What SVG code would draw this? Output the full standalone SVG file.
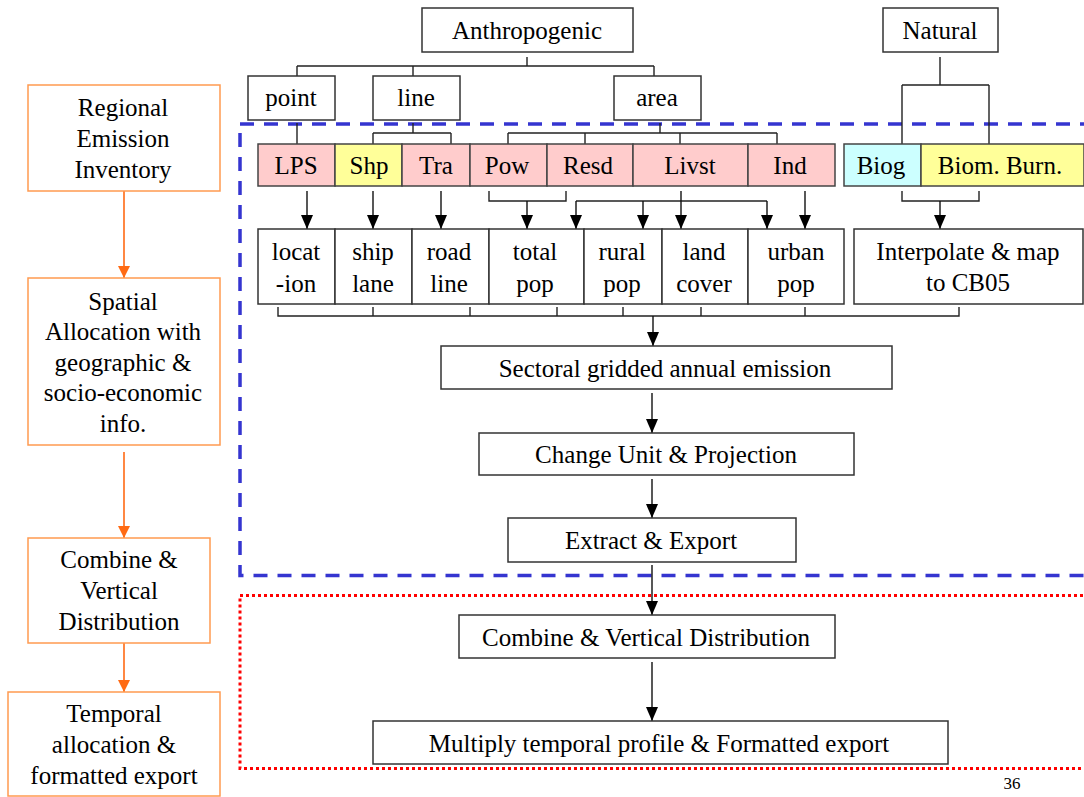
<svg xmlns="http://www.w3.org/2000/svg" width="1084" height="797" viewBox="0 0 1084 797">
<style>
.t{font-family:'Liberation Serif','Times New Roman','DejaVu Serif',serif;font-size:25px;text-anchor:middle;fill:#000}
.b{fill:#fff;stroke:#333;stroke-width:1.5}
.pk{fill:#ffcccc;stroke:#444;stroke-width:1.5}
.yl{fill:#ffff99;stroke:#444;stroke-width:1.5}
.cy{fill:#ccffff;stroke:#444;stroke-width:1.5}
.ob{fill:#fff;stroke:#ff9a50;stroke-width:1.5}
.c{fill:none;stroke:#222;stroke-width:1.4}
.ca{fill:none;stroke:#111;stroke-width:1.4;marker-end:url(#ah)}
.oc{fill:none;stroke:#ff6a13;stroke-width:1.6;marker-end:url(#oh)}
</style>
<defs>
<marker id="ah" viewBox="0 0 14 12" refX="14" refY="6" markerWidth="14" markerHeight="12" markerUnits="userSpaceOnUse" orient="auto"><path d="M0,0 L14,6 L0,12 z" fill="#000"/></marker>
<marker id="oh" viewBox="0 0 12 12" refX="12" refY="6" markerWidth="12" markerHeight="12" markerUnits="userSpaceOnUse" orient="auto"><path d="M0,0 L12,6 L0,12 z" fill="#ff6a13"/></marker>
</defs>
<rect width="1084" height="797" fill="#fff"/>

<g id="regions">
<rect x="240" y="124" width="880" height="451.5" fill="none" stroke="#3535d0" stroke-width="3.5" stroke-dasharray="14 10"/>
<rect x="240" y="595.5" width="880" height="173" fill="none" stroke="#ff0000" stroke-width="3" stroke-dasharray="3 3"/>
</g>

<g id="connectors">
<path class="c" d="M527,57 V66 M297,66 H654 M297,66 V76 M413,66 V76 M654,66 V76"/>
<path class="c" d="M297,123 V144"/>
<path class="c" d="M413,123 V133 M373,133 H451 M373,133 V144 M451,133 V144"/>
<path class="c" d="M660,123 V133 M508,133 H777 M508,133 V144 M585,133 V144 M680,133 V144 M777,133 V144"/>
<path class="c" d="M940,57 V85 M902,85 H989 M902,85 V144 M989,85 V144"/>
<path class="ca" d="M307,191 V229"/>
<path class="ca" d="M373,191 V229"/>
<path class="ca" d="M441,191 V229"/>
<path class="c" d="M489,191 V201 H566 V191"/>
<path class="ca" d="M527,201 V229"/>
<path class="c" d="M576,201 H767"/>
<path class="ca" d="M576,201 V229"/>
<path class="ca" d="M643,201 V229"/>
<path class="ca" d="M681,191 V229"/>
<path class="ca" d="M767,201 V229"/>
<path class="ca" d="M805,191 V229"/>
<path class="c" d="M902,191 V201 H979 V191"/>
<path class="ca" d="M940,201 V229"/>
<path class="c" d="M278,307 V316 H959 V307 M373,307 V316 M470,307 V316 M557,307 V316 M623,307 V316 M701,307 V316 M805,307 V316"/>
<path class="ca" d="M653,316 V346"/>
<path class="ca" d="M652,393 V433"/>
<path class="ca" d="M652,479 V518"/>
<path class="ca" d="M652,565 V615"/>
<path class="ca" d="M652,662 V721"/>
<path class="oc" d="M124,191 V278"/>
<path class="oc" d="M124,452 V538"/>
<path class="oc" d="M124,643 V692"/>
</g>

<g id="anthropogenic"><rect class="b" x="422" y="8" width="211" height="44"/><text class="t" x="527" y="39">Anthropogenic</text></g>
<g id="natural"><rect class="b" x="883" y="8" width="115" height="44"/><text class="t" x="940" y="39">Natural</text></g>
<g id="point"><rect class="b" x="248" y="76" width="87" height="44"/><text class="t" x="291" y="106">point</text></g>
<g id="line"><rect class="b" x="373" y="76" width="87" height="44"/><text class="t" x="416" y="106">line</text></g>
<g id="area"><rect class="b" x="614" y="76" width="87" height="44"/><text class="t" x="657" y="106">area</text></g>

<g id="lps"><rect class="pk" x="258" y="144" width="77" height="42"/><text class="t" x="296" y="174">LPS</text></g>
<g id="shp"><rect class="yl" x="335" y="144" width="67" height="42"/><text class="t" x="369" y="174">Shp</text></g>
<g id="tra"><rect class="pk" x="402" y="144" width="68" height="42"/><text class="t" x="436" y="174">Tra</text></g>
<g id="pow"><rect class="pk" x="470" y="144" width="77" height="42"/><text class="t" x="507" y="174">Pow</text></g>
<g id="resd"><rect class="pk" x="547" y="144" width="86" height="42"/><text class="t" x="588" y="174">Resd</text></g>
<g id="livst"><rect class="pk" x="633" y="144" width="115" height="42"/><text class="t" x="690" y="174">Livst</text></g>
<g id="ind"><rect class="pk" x="748" y="144" width="87" height="42"/><text class="t" x="790" y="174">Ind</text></g>
<g id="biog"><rect class="cy" x="844" y="144" width="77" height="42"/><text class="t" x="881" y="174">Biog</text></g>
<g id="biomburn"><rect class="yl" x="921" y="144" width="163" height="42"/><text class="t" x="1000" y="174">Biom. Burn.</text></g>

<g id="location"><rect class="b" x="258" y="229" width="77" height="75"/><text class="t" x="296" y="260">locat</text><text class="t" x="296" y="292">-ion</text></g>
<g id="shiplane"><rect class="b" x="335" y="229" width="77" height="75"/><text class="t" x="373" y="260">ship</text><text class="t" x="373" y="292">lane</text></g>
<g id="roadline"><rect class="b" x="412" y="229" width="77" height="75"/><text class="t" x="449" y="260">road</text><text class="t" x="449" y="292">line</text></g>
<g id="totalpop"><rect class="b" x="489" y="229" width="95" height="75"/><text class="t" x="535" y="260">total</text><text class="t" x="535" y="292">pop</text></g>
<g id="ruralpop"><rect class="b" x="584" y="229" width="78" height="75"/><text class="t" x="622" y="260">rural</text><text class="t" x="622" y="292">pop</text></g>
<g id="landcover"><rect class="b" x="662" y="229" width="86" height="75"/><text class="t" x="704" y="260">land</text><text class="t" x="704" y="292">cover</text></g>
<g id="urbanpop"><rect class="b" x="748" y="229" width="96" height="75"/><text class="t" x="796" y="260">urban</text><text class="t" x="796" y="292">pop</text></g>
<g id="interpolate"><rect class="b" x="854" y="229" width="229" height="75"/><text class="t" x="968" y="260">Interpolate &amp; map</text><text class="t" x="968" y="291">to CB05</text></g>

<g id="sectoral"><rect class="b" x="441" y="346" width="451" height="43"/><text class="t" x="665" y="377">Sectoral gridded annual emission</text></g>
<g id="changeunit"><rect class="b" x="479" y="433" width="375" height="42"/><text class="t" x="666" y="463">Change Unit &amp; Projection</text></g>
<g id="extract"><rect class="b" x="508" y="518" width="288" height="44"/><text class="t" x="651" y="549">Extract &amp; Export</text></g>
<g id="combine"><rect class="b" x="459" y="615" width="376" height="43"/><text class="t" x="646" y="646">Combine &amp; Vertical Distribution</text></g>
<g id="multiply"><rect class="b" x="373" y="721" width="575" height="43"/><text class="t" x="659" y="752">Multiply temporal profile &amp; Formatted export</text></g>

<g id="s-regional"><rect class="ob" x="28" y="85" width="192" height="106"/><text class="t" x="123" y="116">Regional</text><text class="t" x="123" y="147">Emission</text><text class="t" x="123" y="178">Inventory</text></g>
<g id="s-spatial"><rect class="ob" x="28" y="278" width="192" height="167"/><text class="t" x="123" y="310">Spatial</text><text class="t" x="123" y="340">Allocation with</text><text class="t" x="123" y="371">geographic &amp;</text><text class="t" x="123" y="401">socio-economic</text><text class="t" x="123" y="432">info.</text></g>
<g id="s-combine"><rect class="ob" x="28" y="538" width="182" height="105"/><text class="t" x="119" y="568">Combine &amp;</text><text class="t" x="119" y="599">Vertical</text><text class="t" x="119" y="630">Distribution</text></g>
<g id="s-temporal"><rect class="ob" x="8" y="692" width="212" height="104"/><text class="t" x="114" y="722">Temporal</text><text class="t" x="114" y="753">allocation &amp;</text><text class="t" x="114" y="784">formatted export</text></g>

<text class="t" x="1012" y="789" style="font-size:17px">36</text>
</svg>
